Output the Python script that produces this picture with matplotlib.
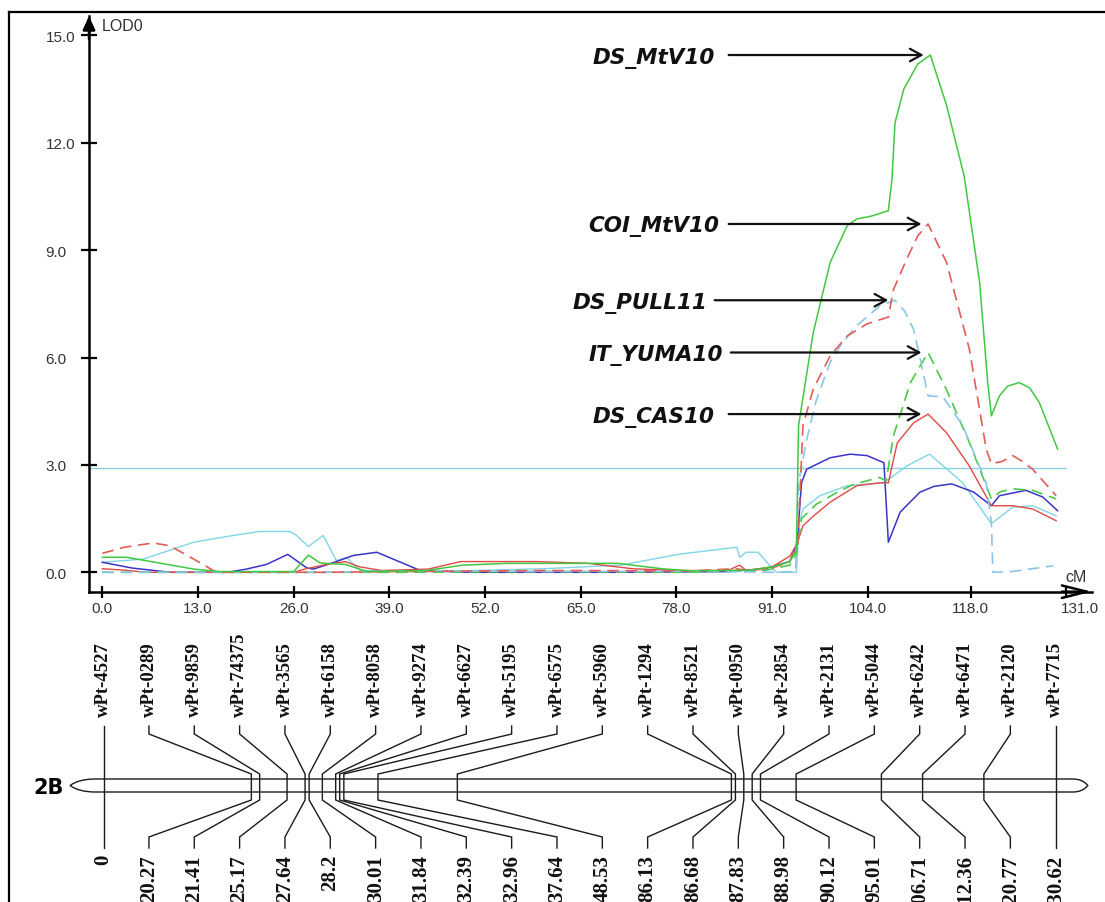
import matplotlib.pyplot as plt
import numpy as np
from matplotlib.lines import Line2D
from matplotlib.path import Path
from matplotlib.patches import PathPatch
from matplotlib.transforms import ScaledTranslation

# LOD profiles along chromosome 2B (position in cM, LOD score)
ds_mtv10_cm = [0, 3.3, 8, 12.4, 16, 26, 28, 29.6, 33, 36, 44, 49, 55, 70, 76, 80, 88, 91, 93.4, 94.3,
               94.6, 96.6, 98.9, 101.2, 102.5, 104.5, 106.8, 107.3, 107.7, 108.9, 110.8, 112.5, 114.7,
               117.1, 119.2, 120.3, 120.8, 121.9, 123.0, 124.6, 126.0, 127.3, 129.8]
ds_mtv10_lod = [0.42, 0.42, 0.25, 0.09, 0.02, 0.02, 0.48, 0.26, 0.22, 0.02, 0.05, 0.2, 0.25, 0.25, 0.1, 0.04,
                0.06, 0.15, 0.3, 0.6, 4.1, 6.7, 8.66, 9.68, 9.87, 9.95, 10.1, 11.0, 12.55, 13.5, 14.2, 14.45,
                13.05, 11.07, 8.1, 5.3, 4.37, 4.93, 5.2, 5.3, 5.15, 4.75, 3.44]

coi_mtv10_cm = [0, 3, 6.9, 9.2, 12.4, 15.5, 30, 40, 60, 80, 86, 88, 91, 93.4, 94.5, 95.2, 96.6, 98.9,
                101.2, 103.9, 106.8, 107.5, 109.3, 110.8, 112.2, 114.7, 117.8, 120.1, 120.8, 122.3,
                123.7, 125.0, 126.4, 129.6]
coi_mtv10_lod = [0.53, 0.7, 0.82, 0.74, 0.37, 0.0, 0.0, 0.02, 0.05, 0.04, 0.1, 0.05, 0.12, 0.3, 0.8, 4.1,
                 5.12, 6.05, 6.6, 6.94, 7.13, 7.9, 8.75, 9.4, 9.73, 8.66, 6.24, 3.44, 3.03, 3.1, 3.26, 3.1,
                 2.88, 2.14]

ds_pull11_cm = [0, 30, 45, 60, 80, 91, 94.2, 94.6, 95.7, 97, 98.9, 100.5, 102.5, 105.7, 107.7, 109,
                110.2, 111.2, 112.2, 114.2, 116.9, 120.1, 120.8, 121.0, 123.5, 129.2]
ds_pull11_lod = [0.0, 0.0, 0.05, 0.02, 0.03, 0.0, 0.02, 2.5, 3.7, 4.8, 5.87, 6.4, 6.89, 7.45, 7.6, 7.3,
                 6.8, 5.9, 4.93, 4.9, 4.1, 2.5, 1.36, 0.0, 0.02, 0.18]

it_yuma10_cm = [0, 20, 40, 60, 80, 90, 93.4, 94.3, 95.0, 97, 99.8, 102, 105.6, 106.5, 107.5, 109.8,
                112.2, 114.7, 117.8, 120.8, 122, 123.7, 126.4, 129.6]
it_yuma10_lod = [0.0, 0.0, 0.0, 0.02, 0.0, 0.05, 0.2, 0.5, 1.5, 1.9, 2.23, 2.45, 2.65, 2.55, 3.82, 5.3,
                 6.14, 5.1, 3.63, 2.05, 2.25, 2.33, 2.29, 2.05]

ds_cas10_cm = [0, 3, 6, 26, 27.7, 30.5, 33, 35, 38, 44.3, 48.7, 58.9, 66, 72, 78, 85, 86.6, 87.5, 91,
               93.4, 94.4, 95.2, 96.5, 98.9, 102.5, 105.7, 106.8, 108, 110.2, 112.2, 114.7, 117.8,
               120.8, 123.7, 126.4, 129.6]
ds_cas10_lod = [0.1, 0.06, 0.0, 0.0, 0.1, 0.22, 0.3, 0.15, 0.05, 0.09, 0.3, 0.3, 0.25, 0.1, 0.05, 0.05,
                0.2, 0.05, 0.15, 0.45, 0.8, 1.3, 1.55, 1.96, 2.42, 2.5, 2.5, 3.61, 4.17, 4.42, 3.9, 2.97,
                1.86, 1.86, 1.77, 1.44]

blue_cm = [0, 4, 9.2, 17, 19.6, 22.3, 25.2, 27.8, 28.7, 31.8, 34.1, 37.3, 39.5, 43.2, 50, 70, 85, 90,
           93.4, 94.4, 95.0, 95.7, 98.9, 101.6, 103.9, 106.2, 106.8, 108.4, 111.1, 113, 115.4, 118.4,
           120.8, 121.9, 125.5, 127.8, 129.8]
blue_lod = [0.28, 0.12, 0.0, 0.0, 0.09, 0.22, 0.5, 0.12, 0.09, 0.3, 0.47, 0.56, 0.37, 0.05, 0.0, 0.0,
            0.02, 0.1, 0.3, 0.8, 2.5, 2.88, 3.2, 3.3, 3.26, 3.06, 0.84, 1.68, 2.24, 2.4, 2.47, 2.24, 1.86,
            2.14, 2.29, 2.1, 1.72]

cyan_cm = [0, 5.6, 12.4, 16.9, 21.4, 25.5, 26.4, 28.0, 30.0, 31.8, 33.2, 35, 45, 60, 70.4, 78.5, 86.2,
           86.6, 87.5, 89.1, 90.7, 91.6, 94.3, 94.7, 95.2, 97.5, 101.2, 106.2, 109.3, 112.4, 116.9,
           120.8, 123.7, 126.4, 129.6]
cyan_lod = [0.28, 0.37, 0.84, 1.0, 1.14, 1.14, 1.03, 0.72, 1.03, 0.33, 0.41, 0.05, 0.02, 0.1, 0.2, 0.51,
            0.7, 0.42, 0.56, 0.56, 0.19, 0.0, 0.0, 1.4, 1.77, 2.14, 2.42, 2.5, 2.97, 3.3, 2.5, 1.36, 1.82,
            1.86, 1.58]

lod_threshold = 2.9

x_ticks = [0, 13, 26, 39, 52, 65, 78, 91, 104, 118, 131]
y_ticks = [0, 3, 6, 9, 12, 15]

# QTL names pointed at on the plot, and where their arrow tails sit (cM)
qtl_names = ['DS_MtV10', 'COI_MtV10', 'DS_PULL11', 'IT_YUMA10', 'DS_CAS10']
arrow_tail_cm = [85.1, 85.1, 83.2, 85.4, 85.1]

# linkage map of 2B
marker_names = ['wPt-4527', 'wPt-0289', 'wPt-9859', 'wPt-74375', 'wPt-3565', 'wPt-6158', 'wPt-8058',
                'wPt-9274', 'wPt-6627', 'wPt-5195', 'wPt-6575', 'wPt-5960', 'wPt-1294', 'wPt-8521',
                'wPt-0950', 'wPt-2854', 'wPt-2131', 'wPt-5044', 'wPt-6242', 'wPt-6471', 'wPt-2120',
                'wPt-7715']
marker_cm = [0, 20.27, 21.41, 25.17, 27.64, 28.2, 30.01, 31.84, 32.39, 32.96, 37.64, 48.53, 86.13, 86.68,
             87.83, 88.98, 90.12, 95.01, 106.71, 112.36, 120.77, 130.62]

W, H = 1105, 903
fig = plt.figure(figsize=(W / 100, H / 100), dpi=100)

# ---- LOD profile panel ----
ax = fig.add_axes([89 / W, 1 - 592.7 / H, (1092 - 89) / W, (592.7 - 17) / H])
ax.patch.set_alpha(0)
ax.set_xlim(-1.81, 134.47)
ax.set_ylim(-0.542, 15.54)

ax.hlines(lod_threshold, ax.get_xlim()[0], 131, color='#8ccfe3', lw=1.0, zorder=1)

dash = (7, 4)
ax.plot(cyan_cm, cyan_lod, color='#7fd6e4', lw=1.0)
ax.plot(blue_cm, blue_lod, color='#3a34c8', lw=1.1)
ax.plot(ds_cas10_cm, ds_cas10_lod, color='#e04a44', lw=1.0)
ax.plot(it_yuma10_cm, it_yuma10_lod, color='#4cc94c', lw=1.2, dashes=dash)
ax.plot(ds_pull11_cm, ds_pull11_lod, color='#8cc6e6', lw=1.2, dashes=dash)
ax.plot(coi_mtv10_cm, coi_mtv10_lod, color='#e35c58', lw=1.2, dashes=dash)
ax.plot(ds_mtv10_cm, ds_mtv10_lod, color='#41c841', lw=1.1)

for s in ['top', 'right']:
    ax.spines[s].set_visible(False)
for s in ['left', 'bottom']:
    ax.spines[s].set_linewidth(1.8)

ax.set_xticks(x_ticks)
ax.set_xticklabels([f'{v:.1f}' for v in x_ticks], family='Liberation Sans', color='#333333')
ax.set_yticks(y_ticks)
ax.set_yticklabels([f'{v:.1f}' for v in y_ticks], family='Liberation Sans', color='#333333')
ax.tick_params(axis='x', direction='inout', length=8, width=1.6, pad=2.5, labelsize=11)
ax.tick_params(axis='y', direction='inout', length=11, width=1.6, pad=25.8, labelsize=11)
for lab in ax.get_yticklabels():
    lab.set_horizontalalignment('left')
# last x label sits under the arrow head
last = ax.get_xticklabels()[-1]
last.set_transform(last.get_transform() + ScaledTranslation(10 / 72, 0, fig.dpi_scale_trans))

# axis arrows
ax.annotate('', xy=(0, 1), xycoords='axes fraction', xytext=(0, 0.96),
            arrowprops=dict(arrowstyle='-|>,head_length=0.55,head_width=0.25', color='black',
                            lw=1.8, mutation_scale=15, shrinkA=0, shrinkB=0))
ax.annotate('', xy=(1, 0), xycoords='axes fraction', xytext=(0.97, 0),
            arrowprops=dict(arrowstyle='->,head_length=1.2,head_width=0.3', color='black',
                            lw=1.8, mutation_scale=15, shrinkA=0, shrinkB=0))
ax.annotate('LOD0', xy=(0, 1), xycoords='axes fraction', xytext=(9.5, -6.5), textcoords='offset points',
            ha='left', va='center', fontsize=11.5, family='Liberation Sans', color='#333333')
ax.annotate('cM', xy=(1, 0), xycoords='axes fraction', xytext=(-11.5, 11.3), textcoords='offset points',
            ha='center', va='center', fontsize=11.5, family='Liberation Sans', color='#333333')

# arrows pointing at each QTL peak
profiles = [(ds_mtv10_cm, ds_mtv10_lod), (coi_mtv10_cm, coi_mtv10_lod), (ds_pull11_cm, ds_pull11_lod),
            (it_yuma10_cm, it_yuma10_lod), (ds_cas10_cm, ds_cas10_lod)]
for name, tail, (xs, ys) in zip(qtl_names, arrow_tail_cm, profiles):
    k = int(np.argmax(ys))
    tip = (xs[k] - 0.9, ys[k])
    ax.annotate('', xy=tip, xytext=(tail, ys[k]),
                arrowprops=dict(arrowstyle='->,head_length=0.55,head_width=0.3', color='#111111',
                                lw=1.6, mutation_scale=15, shrinkA=0, shrinkB=0))
    ax.annotate(name, xy=(tail - 10.2, ys[k]), xytext=(0, -5.4), textcoords='offset points',
                ha='center', va='baseline', fontsize=15.5, fontweight='bold', fontstyle='italic',
                family='DejaVu Sans', color='#111111')

# ---- linkage map panel (x in cM, y in pixels from the top) ----
axm = fig.add_axes([0, 0, 1, 1], zorder=-1)
axm.patch.set_alpha(0)
axm.axis('off')
axm.set_xlim(-103.6 / 7.289, (W - 103.6) / 7.289)
axm.set_ylim(H, 0)

slots = np.linspace(marker_cm[0], marker_cm[-1], len(marker_cm))
line_y = [727, 735, 775, 801, 838, 849]
for name, pos, slot in zip(marker_names, marker_cm, slots):
    axm.plot([slot, slot, pos, pos, slot, slot], line_y, color='#1a1a1a', lw=1.0,
             solid_joinstyle='miter')
    axm.text(slot, 717, name, rotation=90, ha='center', va='bottom', fontsize=13.5,
             fontweight='bold', family='Liberation Serif', color='#111111')
    axm.text(slot, 855, f'{pos:g}', rotation=90, ha='center', va='top', fontsize=15,
             fontweight='bold', family='Liberation Serif', color='#111111')

# chromosome bar with pointed ends
top, bot, mid = 780, 793, 786.5
xl, tl = marker_cm[0] - 1.2, marker_cm[0] - 4.6
xr, tr = marker_cm[-1] + 2.4, marker_cm[-1] + 4.4
cl = tl + 0.35 * (xl - tl)
cr = tr - 0.35 * (tr - xr)
verts = [(xl, top), (xr, top), (cr, top), (tr, mid), (cr, bot), (xr, bot), (xl, bot),
         (cl, bot), (tl, mid), (cl, top), (xl, top)]
codes = [Path.MOVETO, Path.LINETO, Path.CURVE3, Path.CURVE3, Path.CURVE3, Path.CURVE3, Path.LINETO,
         Path.CURVE3, Path.CURVE3, Path.CURVE3, Path.CURVE3]
axm.add_patch(PathPatch(Path(verts, codes), facecolor='none', edgecolor='#1a1a1a', lw=1.0))
axm.annotate('2B', xy=(tl, mid), xytext=(-4.5, 0), textcoords='offset points', ha='right',
             va='center_baseline', fontsize=15, fontweight='bold', family='DejaVu Sans')

# outer frame
fig.add_artist(Line2D([9 / W, 9 / W], [0, 1 - 13 / H], color='black', lw=1.6, transform=fig.transFigure))
fig.add_artist(Line2D([9 / W, 1], [1 - 13 / H, 1 - 13 / H], color='black', lw=1.6, transform=fig.transFigure))

fig.savefig('out.png', dpi=100)
